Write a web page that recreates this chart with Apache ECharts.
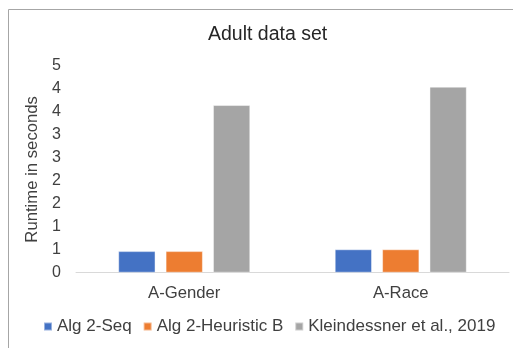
<!DOCTYPE html>
<html>
<head>
<meta charset="utf-8">
<script src="https://cdn.jsdelivr.net/npm/echarts@6/dist/echarts.min.js"></script>
<style>
  html, body { margin: 0; padding: 0; background: #fff; }
  #chart { width: 513px; height: 348px; }
</style>
</head>
<body>
<div id="chart"></div>
<script>
// Runtime (seconds) on the Adult data set, by protected attribute
const categories = ['A-Gender', 'A-Race'];
const seriesNames = ['Alg 2-Seq', 'Alg 2-Heuristic B', 'Kleindessner et al., 2019'];
const algSeq = [0.47, 0.51];
const algHeuristicB = [0.47, 0.51];
const kleindessner = [3.65, 4.05];
const seriesColors = ['#4472C4', '#ED7D31', '#A5A5A5'];

const font = 'Liberation Sans, Arial, sans-serif';
const textColor = '#404040';
const chart = echarts.init(document.getElementById('chart'), null, { renderer: 'canvas' });

const values = [algSeq, algHeuristicB, kleindessner];

chart.setOption({
  animation: false,
  backgroundColor: '#fff',
  textStyle: { fontFamily: font },
  title: {
    text: 'Adult data set',
    left: 208,
    top: 25,
    padding: 0,
    textStyle: { fontFamily: font, fontSize: 19.5, fontWeight: 'normal', color: '#262626' }
  },
  graphic: [
    { type: 'polyline', shape: { points: [[8.5, 348], [8.5, 9.5], [513, 9.5]] },
      style: { stroke: '#a6a6a6', lineWidth: 1, fill: null } }
  ],
  legend: {
    top: 318,
    left: 43,
    padding: 0,
    itemWidth: 8,
    itemHeight: 8,
    itemGap: 11,
    icon: 'rect',
    textStyle: { fontFamily: font, fontSize: 17, color: textColor },
    data: seriesNames
  },
  grid: { left: 76, right: 4, top: 66, bottom: 75.3 },
  xAxis: {
    type: 'category',
    data: categories,
    axisLine: { lineStyle: { color: '#d9d9d9' } },
    axisTick: { show: false },
    axisLabel: { fontFamily: font, fontSize: 16.7, color: textColor, margin: 12 }
  },
  yAxis: {
    type: 'value',
    min: 0,
    max: 4.5,
    interval: 0.5,
    name: 'Runtime in seconds',
    nameLocation: 'middle',
    nameGap: 26,
    nameTextStyle: { fontFamily: font, fontSize: 16.7, color: textColor },
    splitLine: { show: false },
    axisLine: { show: false },
    axisTick: { show: false },
    axisLabel: {
      fontFamily: font, fontSize: 16, color: textColor, margin: 15,
      // whole-second labels, halves rounded up
      formatter: v => String(Math.round(v))
    }
  },
  series: seriesNames.map((name, i) => ({
    name,
    type: 'bar',
    data: values[i],
    barGap: '27%',
    barCategoryGap: '39%',
    itemStyle: { color: seriesColors[i], borderColor: 'rgba(255,255,255,0.45)', borderWidth: 1 }
  }))
});
</script>
</body>
</html>
